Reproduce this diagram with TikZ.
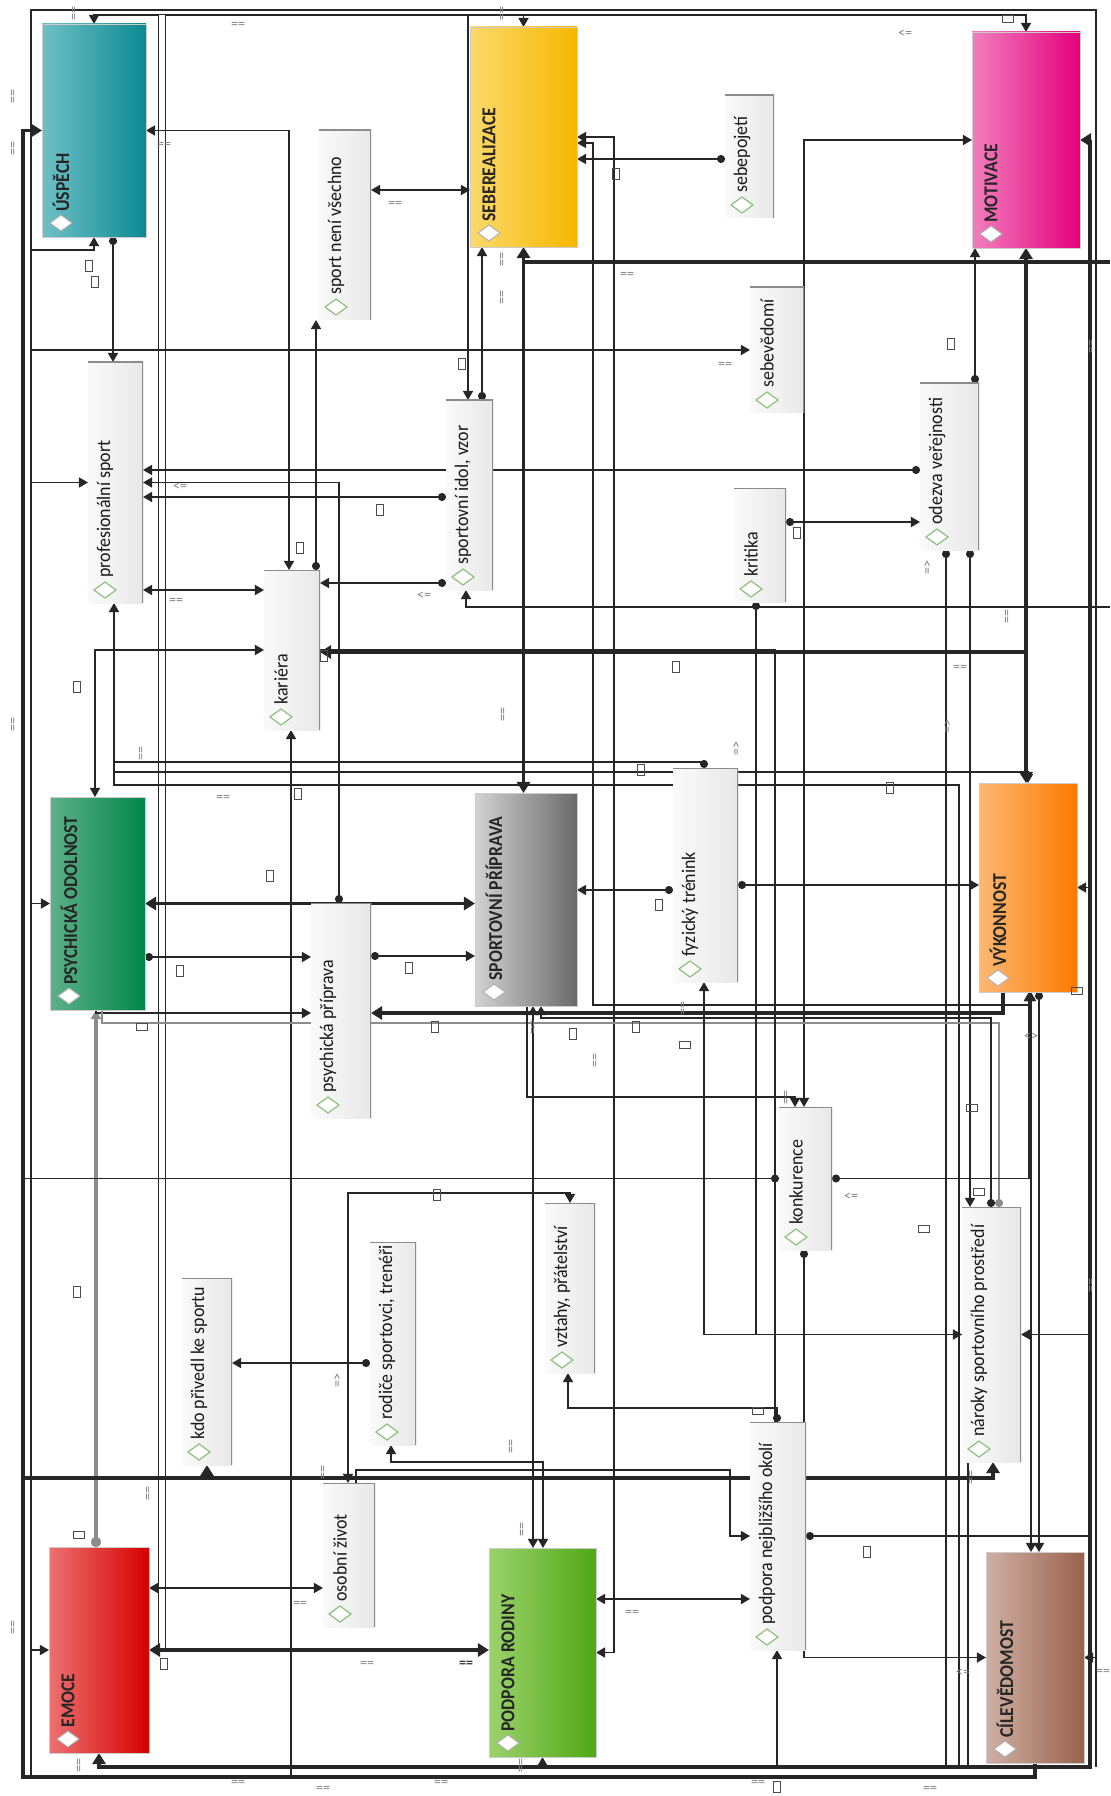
\documentclass[tikz,border=0pt]{standalone}
\usepackage{fontspec}
\setmainfont{Carlito}
\newfontfamily\codefont[FakeStretch=0.93]{Carlito}
\newfontfamily\catfont[FakeStretch=0.9]{Carlito}
\usetikzlibrary{arrows.meta, calc, backgrounds}
\definecolor{uspL}{HTML}{6FC0C6}\definecolor{uspR}{HTML}{0B8A91}
\definecolor{sebL}{HTML}{FBD96B}\definecolor{sebR}{HTML}{F6B700}
\definecolor{motL}{HTML}{F27FBE}\definecolor{motR}{HTML}{E4007C}
\definecolor{psyL}{HTML}{5EB08A}\definecolor{psyR}{HTML}{00864A}
\definecolor{spL}{HTML}{D2D2D2}\definecolor{spR}{HTML}{6A6A6A}
\definecolor{vykL}{HTML}{FDB873}\definecolor{vykR}{HTML}{FB7A00}
\definecolor{emoL}{HTML}{EC7070}\definecolor{emoR}{HTML}{D70000}
\definecolor{rodL}{HTML}{9BD26C}\definecolor{rodR}{HTML}{4FA814}
\definecolor{cilL}{HTML}{CFB0A4}\definecolor{cilR}{HTML}{9A624C}
\definecolor{dmdgreen}{HTML}{8FBF7F}
\tikzset{
  boxsize/.style 2 args={minimum width=#1*0.0175cm, minimum height=#2*0.0175cm},
  cat/.style    ={inner sep=0pt, outer sep=0pt, draw=black!20, line width=0.4pt,
                  path picture={\draw[black!30, fill=white, line width=0.5pt]
                    ($(path picture bounding box.south west)+(19,-14)$)
                    +(-11,0) -- +(0,-8) -- +(11,0) -- +(0,8) -- cycle;}},
  code/.style   ={inner sep=0pt, outer sep=0pt, left color=black!2, right color=black!9,
                  path picture={
                    \draw[black!45, line width=1.4pt]
                      (path picture bounding box.north west) -- (path picture bounding box.north east)
                      -- (path picture bounding box.south east);
                    \draw[dmdgreen, fill=white, line width=0.6pt]
                      ($(path picture bounding box.south west)+(17,-13)$)
                      +(-11,0) -- +(0,-8) -- +(11,0) -- +(0,8) -- cycle;}},
  cattxt/.style ={rotate=90, anchor=west, inner sep=0pt, text=black!85,
                  font=\catfont\bfseries\fontsize{9.8}{11}\selectfont},
  codetxt/.style={rotate=90, anchor=west, inner sep=0pt, text=black!90,
                  font=\codefont\fontsize{9.6}{11}\selectfont},
  rel/.style      ={draw=black!85, line width=0.7pt},
  relthick/.style ={rel, line width=1.6pt, >={Triangle[length=5.5pt,width=6.5pt]}},
  reldouble/.style={draw=black!85, line width=0.6pt, double=white, double distance=2.6pt},
  grayrel/.style  ={draw=black!45, line width=2.2pt},
  grayline/.style ={draw=black!45, line width=0.9pt},
  dotarr/.style   ={rel, {Circle[length=4pt]}->},
  dotline/.style  ={rel, {Circle[length=4pt]}-},
  rl/.style       ={inner sep=0pt, text=black!50, font=\fontsize{7}{7}\selectfont},
  rlv/.style      ={rl, rotate=90},
  tofu/.style     ={draw=black!70, line width=0.5pt, inner sep=0pt,
                    minimum width=0.11cm, minimum height=0.2cm},
  tofuh/.style    ={tofu, minimum width=0.2cm, minimum height=0.11cm},
}

\begin{document}
\begin{tikzpicture}[x=0.0175cm, y=-0.0175cm, >={Triangle[length=4.5pt,width=5pt]}]
\useasboundingbox (0,0) rectangle (1110,1796);

% frame lines of the network view
\coordinate (lfo) at (23,0);
\coordinate (lfi) at (31,0);
\coordinate (tfo) at (0,10);
\coordinate (tfi) at (0,15);
\coordinate (rfi) at (1090,0);
\coordinate (rfo) at (1096,0);
\coordinate (bfi) at (0,1767);
\coordinate (bfo) at (0,1777);
\coordinate (redge) at (1110,0);

% categories (coloured)
\node[cat, boxsize={104}{213}, left color=uspL, right color=uspR] (uspech)  at (94,130.5) {};
\node[cat, boxsize={107}{220}, left color=sebL, right color=sebR] (seberea) at (523.5,137) {};
\node[cat, boxsize={108}{216}, left color=motL, right color=motR] (motiv)   at (1026,140) {};
\node[cat, boxsize={95}{213},  left color=psyL, right color=psyR] (psych)   at (97.5,903.5) {};
\node[cat, boxsize={102}{213}, left color=spL,  right color=spR]  (sprip)   at (526,899.5) {};
\node[cat, boxsize={98}{209},  left color=vykL, right color=vykR] (vykon)   at (1028,887.5) {};
\node[cat, boxsize={100}{206}, left color=emoL, right color=emoR] (emoce)   at (99,1650) {};
\node[cat, boxsize={107}{209}, left color=rodL, right color=rodR] (rodina)  at (542.5,1652.5) {};
\node[cat, boxsize={98}{211},  left color=cilL, right color=cilR] (cil)     at (1035,1657.5) {};

\node[cattxt] (uspech-t)  at ($(uspech.south west)+(19,-25)$)  {ÚSPĚCH};
\node[cattxt] (seberea-t) at ($(seberea.south west)+(19,-25)$) {SEBEREALIZACE};
\node[cattxt] (motiv-t)   at ($(motiv.south west)+(19,-25)$)   {MOTIVACE};
\node[cattxt] (psych-t)   at ($(psych.south west)+(19,-25)$)   {PSYCHICKÁ ODOLNOST};
\node[cattxt] (sprip-t)   at ($(sprip.south west)+(19,-25)$)   {SPORTOVNÍ PŘÍPRAVA};
\node[cattxt] (vykon-t)   at ($(vykon.south west)+(19,-25)$)   {VÝKONNOST};
\node[cattxt] (emoce-t)   at ($(emoce.south west)+(19,-25)$)   {EMOCE};
\node[cattxt] (rodina-t)  at ($(rodina.south west)+(19,-25)$)  {PODPORA RODINY};
\node[cattxt] (cil-t)     at ($(cil.south west)+(19,-25)$)     {CÍLEVĚDOMOST};

% codes
\node[code, boxsize={52}{190}] (vsechno) at (345,225) {};
\node[code, boxsize={49}{123}] (sebepoj) at (749.5,156.5) {};
\node[code, boxsize={54}{126}] (sebeved) at (777,350) {};
\node[code, boxsize={55}{241}] (prof)    at (115.5,482.5) {};
\node[code, boxsize={56}{160}] (kariera) at (292,650) {};
\node[code, boxsize={47}{190}] (idol)    at (469.5,495) {};
\node[code, boxsize={52}{114}] (kritika) at (760,545) {};
\node[code, boxsize={59}{167}] (odezva)  at (949.5,466.5) {};
\node[code, boxsize={65}{214}] (fyz)     at (705.5,875) {};
\node[code, boxsize={60}{215}] (psychpr) at (341,1010.5) {};
\node[code, boxsize={53}{143}] (konk)    at (805.5,1178.5) {};
\node[code, boxsize={50}{187}] (kdo)     at (207,1371.5) {};
\node[code, boxsize={46}{203}] (rodice)  at (393,1343.5) {};
\node[code, boxsize={50}{170}] (vztahy)  at (570,1288) {};
\node[code, boxsize={56}{228}] (okoli)   at (778,1536) {};
\node[code, boxsize={52}{144}] (osobni)  at (349,1555) {};
\node[code, boxsize={59}{255}] (naroky)  at (991.5,1334.5) {};

\node[codetxt] (vsechno-t) at ($(vsechno.south west)+(17,-25)$) {sport není všechno};
\node[codetxt] (sebepoj-t) at ($(sebepoj.south west)+(17,-25)$) {sebepojetí};
\node[codetxt] (sebeved-t) at ($(sebeved.south west)+(17,-25)$) {sebevědomí};
\node[codetxt] (prof-t)    at ($(prof.south west)+(17,-25)$)    {profesionální sport};
\node[codetxt] (kariera-t) at ($(kariera.south west)+(17,-25)$) {kariéra};
\node[codetxt] (idol-t)    at ($(idol.south west)+(17,-25)$)    {sportovní idol, vzor};
\node[codetxt] (kritika-t) at ($(kritika.south west)+(17,-25)$) {kritika};
\node[codetxt] (odezva-t)  at ($(odezva.south west)+(17,-25)$)  {odezva veřejnosti};
\node[codetxt] (fyz-t)     at ($(fyz.south west)+(17,-25)$)     {fyzický trénink};
\node[codetxt] (psychpr-t) at ($(psychpr.south west)+(17,-25)$) {psychická příprava};
\node[codetxt] (konk-t)    at ($(konk.south west)+(17,-25)$)    {konkurence};
\node[codetxt] (kdo-t)     at ($(kdo.south west)+(17,-25)$)     {kdo přivedl ke sportu};
\node[codetxt] (rodice-t)  at ($(rodice.south west)+(17,-25)$)  {rodiče sportovci, trenéři};
\node[codetxt] (vztahy-t)  at ($(vztahy.south west)+(17,-25)$)  {vztahy, přátelství};
\node[codetxt] (okoli-t)   at ($(okoli.south west)+(17,-25)$)   {podpora nejbližšího okolí};
\node[codetxt] (osobni-t)  at ($(osobni.south west)+(17,-25)$)  {osobní život};
\node[codetxt] (naroky-t)  at ($(naroky.south west)+(17,-25)$)  {nároky sportovního prostředí};

\begin{scope}[on background layer]
\fill[white] (0,0) rectangle (1110,1796);

% outer frame
\draw[rel] (lfi |- bfo) -- (lfi |- tfo) -| (rfo |- bfi);
\draw[relthick, <-] (uspech.west) -- (uspech.west -| lfo) |- (cil.south |- bfo) -- (cil.south);
\draw[relthick, <->] (motiv.east) -- (motiv.east -| rfi) |- (emoce.south |- bfi) -- (emoce.south);
\draw[rel, <-] (prof.west) -- (prof.west -| lfi);
\draw[rel, <-] (psych.west) -- (psych.west -| lfi);
\draw[rel, <-] (emoce.west) -- (emoce.west -| lfi);
\draw[rel, <-] (rodina.south) -- (rodina.south |- bfi);
\draw[rel, <-] (vykon.east) -- (vykon.east -| rfi);
\draw[rel, <-] (naroky.east) -- (naroky.east -| rfi);
\draw[rel, <-] (cil.east) -- (cil.east -| rfo);

% top corridor
\draw[rel, <->] (uspech.north) |- (tfi -| seberea.north) -- (seberea.north);
\draw[rel, ->] (tfi -| seberea.north) -| (motiv.north);
\draw[rel, ->] (tfi -| 468,0) -- (idol.north -| 468,0);
\draw[reldouble] (tfi -| 162,0) -- (emoce.east -| 162,0);

% upper part
\draw[rel, <-] (uspech.south) |- (lfi |- 0,250);
\draw[dotarr] (uspech.south -| 113,0) -- (prof.north -| 113,0);
\draw[rel, <->] (uspech.east) -| (kariera.north -| 289,0);
\draw[dotarr] (kariera.north -| 316,0) -- (vsechno.south -| 316,0);
\draw[rel, <->] (vsechno.east |- 0,190) -- (seberea.west |- 0,190);
\draw[dotarr] (idol.north -| 482,0) -- (seberea.south -| 482,0);
\draw[relthick, <->] (seberea.south) -- (seberea.south |- sprip.north);
\draw[relthick] (seberea.south |- 0,262) -- (redge |- 0,262);
\draw[rel, ->] (lfi |- sebeved.west) -- (sebeved.west);
\draw[dotarr] (sebepoj.west |- 0,159) -- (seberea.east |- 0,159);
\draw[rel, <->] (seberea.east |- 0,137) -| (rodina.east -| 614,0) -- (rodina.east);
\draw[rel, <->] (seberea.east |- 0,143) -| (593,1005) -| (vykon.south -| 1029,0);
\draw[rel, <->] (motiv.west) -| (konk.north -| 804,0);
\draw[dotarr] (odezva.north -| 975,0) -- (motiv.south -| 975,0);
\draw[relthick, <->] (motiv.south) -- (motiv.south |- vykon.north);
\draw[relthick, ->] (motiv.south |- 0,652) -- (kariera.east |- 0,652);

% middle part
\draw[dotarr] (odezva.west |- 0,470) -- (prof.east |- 0,470);
\draw[dotarr] (psychpr.north -| 339,0) |- (prof.east);
\draw[dotarr] (idol.west |- 0,497) -- (prof.east |- 0,497);
\draw[dotarr] (idol.west |- 0,583) -- (kariera.east |- 0,583);
\draw[rel, <->] (prof.east |- 0,590) -- (kariera.west |- 0,590);
\draw[rel, <-] (idol.south -| 466,0) |- (redge |- 0,607);
\draw[dotarr] (fyz.north -| 704,0) |- (114,762) -- (prof.south -| 114,0);
\draw[rel, ->] (prof.south -| 114,0) |- (vykon.north |- 0,772) -- (vykon.north);
\draw[rel] (prof.south -| 114,0) |- (959,785) -- (bfi -| 959,0);
\draw[rel, <->] (psych.north -| 95,0) |- (kariera.west);
\draw[rel, <-] (kariera.south -| 291,0) -- (bfo -| 291,0);
\draw[dotarr] (kritika.east |- 0,522) -- (odezva.west |- 0,522);
\draw[dotarr] (odezva.south -| 970,0) -- (naroky.north -| 970,0);
\draw[dotline] (odezva.south -| 946,0) -- (bfi -| 946,0);
\draw[relthick, <->] (psych.east) -- (psych.east -| sprip.west);
\draw[dotarr] (psych.east |- 0,957) -- (psychpr.west |- 0,957);
\draw[dotarr] (psychpr.east |- 0,956) -- (sprip.west |- 0,956);
\draw[dotarr] (fyz.west |- 0,890) -- (sprip.east |- 0,890);
\draw[dotarr] (fyz.east |- 0,885) -- (vykon.west |- 0,885);
\draw[grayrel, {Circle[length=5pt]}->] (emoce.north -| 96,0) -- (psych.south -| 96,0);
\draw[rel, ->] (psych.south -| 96,0) |- (psychpr.west |- 0,1013);
\draw[grayline] (psych.south -| 102,0) |- (psychpr.west |- 0,1023);
\draw[relthick, <-] (psychpr.east |- 0,1013) -| (vykon.south -| 1003,0);
\draw[grayline, {Circle[length=4pt]}-] (naroky.north -| 999,0) |- (psychpr.east |- 0,1023);
\draw[dotarr] (naroky.north -| 991,0) |- (541,1018) -- (sprip.south -| 541,0);
\draw[rel, ->] (sprip.south -| 527,0) |- (795,1097) -- (konk.north -| 795,0);

% lower part
\draw[dotline] (konk.west) -- (konk.west -| lfo);
\draw[dotline] (konk.south -| 804,0) -- (okoli.north -| 804,0);
\draw[dotarr] (konk.east) -| (vykon.south -| 1029,0);
\draw[rel, <->] (vykon.south -| 1031,0) -- (cil.north -| 1031,0);
\draw[dotarr] (vykon.south -| 1039,0) -- (cil.north -| 1039,0);
\draw[rel, <->] (fyz.south -| 704,0) |- (naroky.west);
\draw[dotline] (kritika.south -| 756,0) |- (naroky.west);
\draw[rel, <->] (sprip.south -| 533,0) -- (rodina.north -| 533,0);
\draw[rel, <->] (osobni.north -| 348,0) -- (348,1193) -| (vztahy.north -| 570,0);
\draw[dotarr] (rodice.west |- 0,1363) -- (kdo.east |- 0,1363);
\draw[rel, <->] (rodice.south -| 391,0) |- (543,1462) -- (rodina.north -| 543,0);
\draw[relthick] (lfo |- 0,1478) -- (kdo.south |- 0,1478);
\draw[relthick, <->] (kdo.south) -- (kdo.south |- 0,1478) -| (naroky.south -| 993,0);
\draw[rel, ->] (osobni.north -| 356,0) |- (730,1470) |- (okoli.west);
\draw[rel, <->] (emoce.east |- 0,1588) -- (osobni.west |- 0,1588);
\draw[relthick, <->] (emoce.east) -- (emoce.east -| rodina.west);
\draw[rel, <->] (rodina.east |- 0,1599) -- (okoli.west |- 0,1599);
\draw[dotline] (okoli.east) -- (okoli.east -| rfi);
\draw[rel, ->] (okoli.south -| 804,0) |- (cil.west);
\draw[rel, <-] (okoli.south -| 777,0) -- (bfi -| 777,0);
\draw[dotarr] (okoli.north -| 777,0) |- (568,1408) -- (vztahy.south -| 568,0);
\draw[rel] (okoli.north -| 775,0) |- (kariera.east);
\draw[rel] (naroky.south -| 968,0) -- (bfi -| 968,0);
\end{scope}

% relation labels
\foreach \x/\y [count=\i] in {238/25, 164/145, 395/204, 627/275, 725/365, 176/601,
    223/798, 960/668, 300/1604, 367/1664, 632/1613, 238/1783, 323/1789, 441/1783,
    758/1783, 930/1789, 1103/1672}
  \node[rl] (eqh-\i) at (\x,\y) {==};
\node[rl, text=black!80, font=\bfseries\fontsize{7}{7}\selectfont] (eqb) at (466,1664) {==};
\foreach \x/\y [count=\i] in {14/97, 14/149, 14/724, 14/1627, 75/14, 503/14, 503/260,
    503/298, 1092/347, 142/753, 504/714, 1008/616, 149/1493, 512/1446, 523/1529,
    596/1060, 534/1027, 1092/1285, 684/1008, 972/1477, 324/1472, 80/1765, 522/1765,
    787/1097}
  \node[rlv] (eqv-\i) at (\x,\y) {==};
\foreach \x/\y [count=\i] in {180/487, 424/596, 905/34, 851/1197, 963/1673}
  \node[rl] (le-\i) at (\x,\y) {<=};
\foreach \x/\y [count=\i] in {338/1380, 928/567, 948/726, 737/748}
  \node[rlv] (ge-\i) at (\x,\y) {=>};
\node[rl] (ne) at (1031,1037) {<>};

% missing-glyph boxes
\foreach \x/\y [count=\i] in {89/266, 95/282, 462/364, 616/174, 951/344, 380/510,
    300/548, 77/687, 298/794, 270/876, 324/656, 180/971, 409/968, 435/1027, 797/533,
    676/667, 641/770, 890/788, 573/1034, 636/1027, 659/905, 437/1195, 77/1292,
    164/1664, 867/1552, 777/1787}
  \node[tofu] (tf-\i) at (\x,\y) {};
\foreach \x/\y [count=\i] in {1008/19, 142/1027, 79/1535, 685/1045, 972/1108,
    979/1192, 924/1229, 758/1411, 1077/991}
  \node[tofuh] (th-\i) at (\x,\y) {};

\end{tikzpicture}
\end{document}
